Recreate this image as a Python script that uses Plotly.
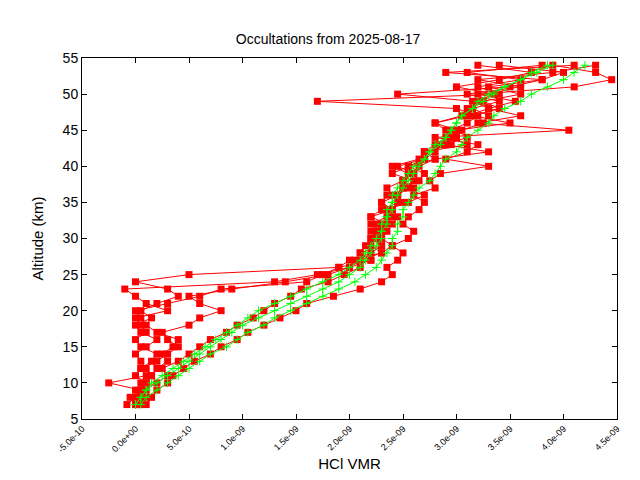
import plotly.graph_objects as go

altitude = list(range(7, 55))  # km

red_profiles = [
    [0.0, -0.05, 0.05, 0.10, 0.0, 0.05, 0.15, 0.20,
     0.05, 0.0, 0.10, 0.05, 0.0, 0.30, 0.10, 0.0,
     -0.10, 1.30, 1.70, 2.00, 2.10, 2.30, 2.20, 2.25,
     2.30, 2.20, 2.35, 2.40, 2.30, 2.45, 2.50, 2.60,
     2.40, 2.55, 2.70, 2.80, 2.85, 3.00, 2.95, 3.10,
     3.20, 3.00, 1.70, 3.40, 3.20, 3.60, 3.10, 3.80],
    [0.02, 0.05, 0.0, 0.10, 0.15, 0.10, 0.05, 0.0,
     0.10, 0.20, 0.05, 0.0, 0.15, 0.05, 0.20, 0.40,
     0.30, 0.0, 0.5, 1.9, 2.2, 2.1, 2.3, 2.2,
     2.25, 2.35, 2.2, 2.3, 2.45, 2.4, 2.35, 2.5,
     2.6, 2.45, 2.7, 2.7, 2.8, 3.0, 2.9, 2.8,
     3.1, 3.3, 3.15, 2.45, 3.5, 3.8, 2.9, 4.1],
    [0.05, 0.1, 0.05, 0.2, 0.3, 0.25, 0.4, 0.5,
     0.6, 0.7, 0.85, 0.95, 1.1, 1.2, 1.3, 1.45,
     1.55, 1.8, 1.95, 2.1, 2.05, 2.2, 2.3, 2.2,
     2.35, 2.3, 2.4, 2.35, 2.5, 2.45, 2.55, 2.5,
     2.6, 2.65, 2.8, 3.3, 2.9, 3.1, 3.0, 3.5,
     3.15, 3.4, 3.25, 3.6, 3.3, 3.8, 4.0, 3.4],
    [0.1, 0.15, 0.2, 0.3, 0.35, 0.45, 0.55, 0.7,
     0.8, 0.95, 1.05, 1.2, 1.35, 1.5, 1.6, 1.85,
     2.1, 2.3, 2.4, 2.35, 2.45, 2.5, 2.4, 2.55,
     2.6, 2.5, 2.55, 2.65, 2.7, 2.6, 2.8, 2.75,
     2.85, 3.3, 2.9, 3.1, 3.2, 2.8, 4.05, 3.2,
     3.6, 3.3, 3.55, 3.2, 4.1, 4.45, 4.3, 3.9],
    [-0.08, 0.0, 0.05, -0.25, 0.1, 0.05, 0.2, 0.3,
     0.4, 0.3, 0.25, 0.5, 0.6, 0.8, 0.6, 0.5,
     0.9, 1.4, 1.8, 2.0, 2.2, 2.1, 2.15, 2.25,
     2.3, 2.25, 2.2, 2.4, 2.3, 2.35, 2.6, 2.5,
     2.55, 2.4, 2.65, 2.7, 2.95, 2.9, 3.0, 2.8,
     3.05, 3.1, 3.2, 3.35, 3.0, 3.4, 3.7, 3.2],
    [0.0, 0.05, 0.1, 0.05, 0.15, 0.2, 0.3, 0.25,
     0.35, 0.4, 0.2, 0.1, 0.05, 0.0, 0.3, 0.6,
     0.8, 1.6, 1.75, 1.9, 2.0, 2.3, 2.4, 2.3,
     2.2, 2.4, 2.45, 2.35, 2.55, 2.7, 2.5, 2.65,
     2.7, 2.55, 2.8, 2.7, 3.1, 2.95, 3.05, 3.25,
     3.3, 3.15, 3.4, 3.1, 3.6, 3.2, 3.9, 4.3],
]

green_profiles = [
    [0.0, 0.05, 0.1, 0.15, 0.25, 0.35, 0.45, 0.55,
     0.65, 0.75, 0.85, 0.95, 1.05, 1.15, 1.3, 1.45,
     1.6, 1.75, 1.9, 2.0, 2.1, 2.15, 2.2, 2.25,
     2.3, 2.3, 2.35, 2.35, 2.4, 2.4, 2.45, 2.5,
     2.55, 2.6, 2.7, 2.75, 2.8, 2.9, 2.95, 3.0,
     3.05, 3.15, 3.25, 3.35, 3.45, 3.6, 3.75, 3.9],
    [0.05, 0.1, 0.2, 0.3, 0.4, 0.5, 0.6, 0.7,
     0.85, 0.95, 1.05, 1.2, 1.3, 1.45, 1.6, 1.75,
     1.9, 2.05, 2.15, 2.25, 2.3, 2.35, 2.4, 2.4,
     2.45, 2.45, 2.5, 2.5, 2.55, 2.6, 2.65, 2.75,
     2.8, 2.85, 2.9, 3.0, 3.05, 3.1, 3.2, 3.3,
     3.35, 3.45, 3.6, 3.7, 3.85, 4.0, 4.1, 4.2],
    [0.0, 0.05, 0.1, 0.2, 0.3, 0.4, 0.5, 0.6,
     0.7, 0.8, 0.9, 1.0, 1.15, 1.3, 1.45, 1.6,
     1.75, 1.9, 2.0, 2.1, 2.15, 2.2, 2.25, 2.3,
     2.3, 2.35, 2.35, 2.4, 2.4, 2.45, 2.5, 2.55,
     2.6, 2.65, 2.7, 2.75, 2.85, 2.9, 2.95, 3.0,
     3.05, 3.15, 3.2, 3.3, 3.45, 3.6, 3.7, 3.85],
]

x_tickvals = [-0.5, 0.0, 0.5, 1.0, 1.5, 2.0, 2.5, 3.0, 3.5, 4.0, 4.5]  # ppb
x_ticktext = ["-5.0e-10", "0.0e+00", "5.0e-10", "1.0e-09", "1.5e-09", "2.0e-09",
              "2.5e-09", "3.0e-09", "3.5e-09", "4.0e-09", "4.5e-09"]

fig = go.Figure()
for prof in red_profiles:
    fig.add_trace(go.Scatter(x=prof, y=altitude, mode="lines+markers",
                             line=dict(color="#ff0000", width=1),
                             marker=dict(symbol="square", size=7, color="#ff0000"),
                             showlegend=False))
for prof in green_profiles:
    fig.add_trace(go.Scatter(x=prof, y=altitude, mode="lines+markers",
                             line=dict(color="#00ff00", width=1),
                             marker=dict(symbol="cross-thin", size=6,
                                         line=dict(color="#00ff00", width=1)),
                             showlegend=False))

axis_common = dict(showgrid=False, zeroline=False, showline=True, mirror="ticks",
                   linecolor="black", linewidth=1, ticks="inside", ticklen=5,
                   tickcolor="black")
fig.update_layout(
    width=640, height=480,
    plot_bgcolor="white", paper_bgcolor="white",
    margin=dict(l=74, r=31, t=50, b=69),
    title=dict(text="Occultations from 2025-08-17", x=0.5, xanchor="center", y=0.945,
               font=dict(family="Liberation Sans", size=14, color="black")),
    xaxis=dict(range=[-0.5, 4.5], tickvals=x_tickvals, ticktext=x_ticktext, tickangle=-45,
               tickfont=dict(family="Liberation Sans", size=9, color="black"),
               title=dict(text="HCl VMR", font=dict(family="Liberation Sans", size=15, color="black"),
                          standoff=4),
               **axis_common),
    yaxis=dict(range=[5, 55], dtick=5,
               tickfont=dict(family="Liberation Sans", size=14, color="black"),
               title=dict(text="Altitude (km)", font=dict(family="Liberation Sans", size=15, color="black")),
               **axis_common),
)
fig.write_html("out.html")
